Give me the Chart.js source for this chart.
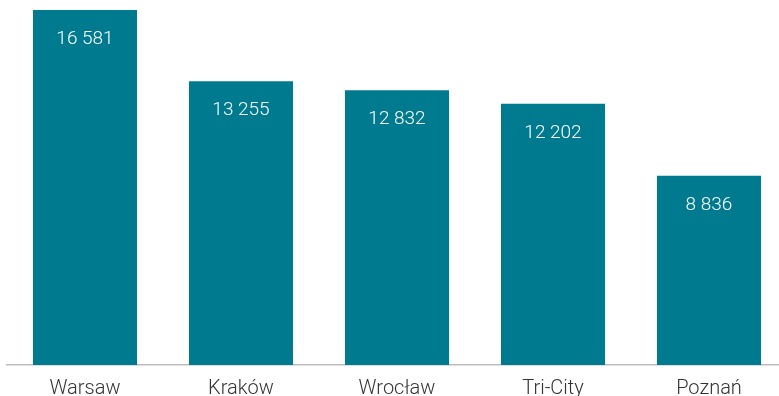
<!DOCTYPE html>
<html>
<head>
<meta charset="utf-8">
<script src="https://cdn.jsdelivr.net/npm/chart.js@4/dist/chart.umd.min.js"></script>
<style>
  html, body { margin: 0; padding: 0; background: #fff; overflow: hidden; }
  #wrap { position: relative; width: 790px; height: 396px; }
</style>
</head>
<body>
<div id="wrap"><canvas id="c"></canvas></div>
<script>
const cities = ['Warsaw', 'Kraków', 'Wrocław', 'Tri-City', 'Poznań'];
const values = [16581, 13255, 12832, 12202, 8836];
const valueLabels = ['16 581', '13 255', '12 832', '12 202', '8 836'];

// white figure printed near the top of each bar
const barValueText = {
  id: 'barValueText',
  afterDatasetsDraw(chart) {
    const { ctx } = chart;
    const meta = chart.getDatasetMeta(0);
    ctx.save();
    ctx.fillStyle = '#ffffff';
    ctx.font = '300 19px Roboto, "Liberation Sans", sans-serif';
    ctx.textAlign = 'center';
    ctx.textBaseline = 'middle';
    meta.data.forEach((bar, i) => {
      ctx.fillText(valueLabels[i], bar.x, bar.y + 29);
    });
    ctx.restore();
  }
};

new Chart(document.getElementById('c'), {
  type: 'bar',
  data: {
    labels: cities,
    datasets: [{
      data: values,
      backgroundColor: '#007a8f',
      borderWidth: 0,
      categoryPercentage: 1,
      barPercentage: 0.667
    }]
  },
  options: {
    responsive: true,
    maintainAspectRatio: false,
    animation: false,
    layout: { padding: { left: 7, right: 3, top: 10, bottom: 0 } },
    plugins: { legend: { display: false }, tooltip: { enabled: false } },
    scales: {
      x: {
        grid: { display: false, drawTicks: false },
        border: { display: true, color: '#bdbdbd', width: 1.5 },
        ticks: {
          padding: 12,
          color: '#333333',
          font: { family: 'Roboto, "Liberation Sans", sans-serif', size: 20, weight: '300' }
        },
        afterFit(scale) { scale.height = 31; }
      },
      y: {
        display: false,
        min: 0,
        max: 16581
      }
    }
  },
  plugins: [barValueText]
});
</script>
</body>
</html>
